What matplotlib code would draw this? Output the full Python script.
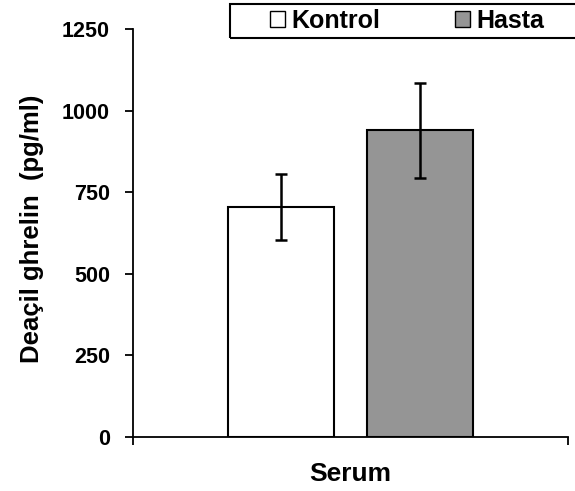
import matplotlib
matplotlib.use("Agg")
import matplotlib.pyplot as plt
from matplotlib.patches import Patch, Rectangle

plt.rcParams['font.family'] = ['Liberation Sans', 'DejaVu Sans']
plt.rcParams['font.weight'] = 'bold'

# data
gruplar = ['Kontrol', 'Hasta']
ortalama = [706, 940]
hata = [101, 145]
renkler = ['white', '#959595']
yticks = [0, 250, 500, 750, 1000, 1250]

fig = plt.figure(figsize=(5.75, 4.91), dpi=100)
ax = fig.add_axes([0.2313, 0.1106, 0.7565, 0.8297])

xpos = [-0.16, 0.16]
ax.bar(xpos, ortalama, width=0.245, color=renkler, edgecolor='black', linewidth=1.5, zorder=2)
ax.errorbar(xpos, ortalama, yerr=hata, fmt='none', ecolor='black', elinewidth=1.8,
            capsize=4, capthick=1.8, zorder=3)

ax.set_xlim(-0.5, 0.5)
ax.set_ylim(0, 1250)
ax.set_yticks(yticks)
ax.set_yticklabels([str(v) for v in yticks], fontsize=15.5, fontweight='bold')
ax.set_xticks([-0.5, 0.5])
ax.set_xticklabels(['', ''])
ax.tick_params(axis='both', direction='out', length=6, width=1.3, pad=10.5)

for s in ['top', 'right']:
    ax.spines[s].set_visible(False)
for s in ['left', 'bottom']:
    ax.spines[s].set_linewidth(1.3)

ax.set_ylabel('Deaçil ghrelin  (pg/ml)', fontsize=18.5, fontweight='bold')
ax.yaxis.set_label_coords(-0.205, 0.51)
ax.set_xlabel('Serum', fontsize=19, fontweight='bold', va='top')
ax.xaxis.set_label_coords(0.5, -0.062)

# legend box runs off the right edge of the picture
fig.patches.append(Rectangle((230 / 575, 1 - 38 / 491), 400 / 575, 34 / 491,
                             transform=fig.transFigure, fill=False,
                             edgecolor='black', linewidth=1.5, clip_on=False))
handles = [Patch(facecolor=c, edgecolor='black', linewidth=1.0) for c in renkler]
fig.legend(handles, gruplar, loc='center left', bbox_to_anchor=(270 / 575, 1 - 21 / 491),
           ncol=2, frameon=False, prop={'weight': 'bold', 'size': 18},
           handlelength=0.6, handleheight=0.6, handletextpad=0.25,
           columnspacing=3.0, borderpad=0, borderaxespad=0)

fig.savefig('out.png', dpi=100)
